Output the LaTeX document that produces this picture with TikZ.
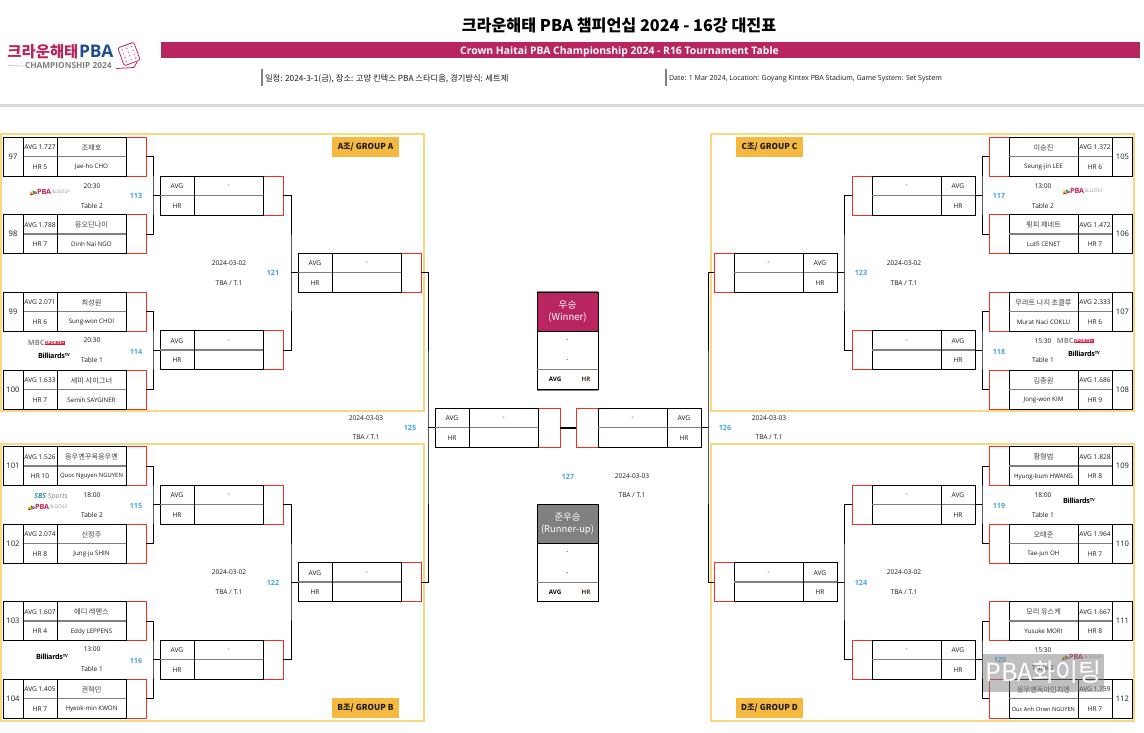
\documentclass[tikz,border=0pt]{standalone}
\usepackage{fontspec}
\setmainfont{Open Sans}
\newfontfamily\kr{Noto Sans CJK KR}
\definecolor{brand}{HTML}{B9265F}
\definecolor{grp}{HTML}{F9D77E}
\definecolor{grpfill}{HTML}{F5B93F}
\definecolor{redl}{HTML}{EE3124}
\definecolor{blue}{HTML}{45A5E0}
\definecolor{midg}{HTML}{808080}
\definecolor{ink}{HTML}{1A1A1A}
\definecolor{pbab}{HTML}{1F4E8C}
\tikzset{
  every node/.style={inner sep=0pt,outer sep=0pt,text=ink},
  redcell/.style={draw=redl,line width=.95pt,minimum height=39pt},
  framecell/.style={draw=black,line width=.95pt,minimum height=39pt},
  numcell/.style={draw=black,line width=.95pt,minimum height=39pt,minimum width=20pt,font=\fontsize{7.6}{8}\selectfont},
  sdiv/.style={draw=black,line width=.95pt},
  gline/.style={draw=midg,line width=1.5pt},
  small/.style={font=\fontsize{6.6}{7}\selectfont},
  krname/.style={font=\kr\fontsize{7.2}{8}\selectfont,text=black!75},
  eng/.style={font=\fontsize{6.2}{7}\selectfont},
  smallb/.style={font=\bfseries\fontsize{6.2}{7}\selectfont},
  mnum/.style={font=\bfseries\fontsize{7.2}{8}\selectfont,text=blue},
  group/.style={draw=grp,line width=1.7pt},
  glabel/.style={fill=grpfill,minimum width=67pt,minimum height=20pt,font=\kr\bfseries\fontsize{8.2}{9}\selectfont},
  conn/.style={draw=black,line width=.95pt},
}
\def\rw{20}
% left-hand entry: name, x of left edge, y top, avg, hr, top text, bottom text
\newcommand\leftbox[7]{%
  \node[redcell,minimum width=\rw pt] (#1) at ({#2+103+\rw/2},{#3+19.5}) {};
  \node[framecell,minimum width=103pt] (#1f) at ({#2+51.5},{#3+19.5}) {};
  \draw[gline] (#2,#3+19.5) -- (#2+103,#3+19.5);
  \draw[sdiv] (#2+34,#3) -- (#2+34,#3+39);
  \node[small] (#1a) at (#2+17,#3+10.4) {#4};
  \node[small] (#1h) at (#2+17,#3+30) {#5};
  \node[krname] (#1k) at (#2+68.5,#3+10.4) {#6};
  \node[eng] (#1e) at (#2+68.5,#3+30) {#7};
}
% right-hand entry: name, x of right edge, y top, avg, hr, top text, bottom text
\newcommand\rightbox[7]{%
  \node[redcell,minimum width=\rw pt] (#1) at ({#2-103-\rw/2},{#3+19.5}) {};
  \node[framecell,minimum width=103pt] (#1f) at ({#2-51.5},{#3+19.5}) {};
  \draw[gline] (#2,#3+19.5) -- (#2-103,#3+19.5);
  \draw[sdiv] (#2-34,#3) -- (#2-34,#3+39);
  \node[small] (#1a) at (#2-17,#3+10.4) {#4};
  \node[small] (#1h) at (#2-17,#3+30) {#5};
  \node[krname] (#1k) at (#2-68.5,#3+10.4) {#6};
  \node[eng] (#1e) at (#2-68.5,#3+30) {#7};
}
\newcommand\plL[6]{\leftbox{p#1}{23}{#2}{AVG #3}{HR #4}{#5}{#6}
  \node[numcell] (n#1) at (13,#2+19.5) {#1};}
\newcommand\plR[6]{\rightbox{p#1}{1112}{#2}{AVG #3}{HR #4}{#5}{#6}
  \node[numcell] (n#1) at (1122.5,#2+19.5) {#1};}
% logos
\newcommand\peacock[2]{%
  \begin{scope}[shift={(#1,#2)}]
    \fill[red!80!black] (0,0) -- (-3.2,-1) -- (-3.2,.8) -- cycle;
    \fill[orange] (0,0) -- (-2.6,-2.6) -- (-3.4,-1.2) -- cycle;
    \fill[yellow!80!orange] (0,0) -- (-.8,-3.6) -- (-2.2,-3) -- cycle;
    \fill[green!60!black] (0,0) -- (.8,-3.6) -- (-.4,-3.8) -- cycle;
    \fill[blue!70!black] (0,0) -- (2.6,-2.6) -- (1.2,-3.4) -- cycle;
    \fill[violet] (0,0) -- (3.2,-1) -- (3,-2.2) -- cycle;
  \end{scope}}
\newcommand\pgl[3]{%
  \peacock{#2-16.5}{#3+2.4}
  \node[anchor=west,font=\bfseries\fontsize{7.2}{8}\selectfont,text=brand!85!red] (#1a) at (#2-13,#3) {PBA};
  \node[anchor=west,font=\fontsize{5.2}{6}\selectfont,text=gray!80] (#1b) at (#1a.east) {\,\&\,GOLF};}
\newcommand\bil[3]{%
  \node[font=\bfseries\fontsize{7.2}{8}\selectfont,text=black] (#1) at (#2,#3) {\addfontfeature{LetterSpace=-4}Billiards\raisebox{2.6pt}{\fontsize{4.2}{5}\selectfont TV}};}
\newcommand\mbcs[3]{%
  \node[anchor=east,font=\bfseries\fontsize{7.4}{8}\selectfont,text=black!45] (#1a) at (#2-7.5,#3) {MBC};
  \node[anchor=west,fill=brand!60!red,font=\bfseries\fontsize{4.4}{5}\selectfont,text=white,inner xsep=.8pt,inner ysep=.8pt] (#1b) at (#1a.east) {SPORTS+};}
\usetikzlibrary{calc}
\begin{document}
\begin{tikzpicture}[x=1pt,y=-1pt]
\useasboundingbox (0,0) rectangle (1144,732);
\fill[white] (0,0) rectangle (1144,732);
% header
\node[font=\kr\bfseries\fontsize{16.2}{18}\selectfont,text=black] (title) at (619,25.5) {크라운해태 PBA 챔피언십 2024 - 16강 대진표};
\node[fill=brand,minimum width=979pt,minimum height=16pt] (bar) at (650.5,50) {};
\node[font=\bfseries\fontsize{10.4}{12}\selectfont,text=white] (subtitle) at (619.5,51.3) {Crown Haitai PBA Championship 2024 - R16 Tournament Table};
\node[minimum width=1.3pt,minimum height=17pt,fill=midg] (infoa) at (262,77.5) {};
\node[anchor=west,font=\kr\fontsize{8.3}{9}\selectfont] (infoat) at (265,78.5) {일정: 2024-3-1(금), 장소: 고양 킨텍스 PBA 스타디움, 경기방식: 세트제};
\node[minimum width=1.3pt,minimum height=17pt,fill=midg] (infob) at (666,77.5) {};
\node[anchor=west,font=\fontsize{7.05}{8}\selectfont] (infobt) at (669,78.5) {Date: 1 Mar 2024, Location: Goyang Kintex PBA Stadium, Game System: Set System};
\node[fill=black!15,minimum width=1144pt,minimum height=3.5pt] (band) at (572,105.5) {};
% logo
\node[anchor=west,font=\kr\bfseries\fontsize{15.4}{17}\selectfont,text=brand] (lg1) at (7.5,51.5) {크라운해태};
\node[anchor=west,font=\bfseries\fontsize{17.4}{18}\selectfont,text=pbab] (lg2) at (79,51.5) {PBA};
\node[anchor=west,font=\bfseries\fontsize{8.3}{9}\selectfont,text=gray] (lg3) at (25,66) {CHAMPIONSHIP 2024};
\draw[gray!50,line width=.6pt] (8,65.5) -- (lg3.west);
\begin{scope}[shift={(129,54)},rotate=20]
  \draw[brand,line width=.8pt,rounded corners=2pt] (-8.5,-9.5) rectangle (8.5,9.5);
  \foreach \i in {-5,0,5}\foreach \j in {-6,-2,2,6}\fill[brand!60] (\i,\j) circle (.9);
\end{scope}
\draw[brand,line width=.8pt] (116,68.5) -- (134,67.5) -- (137,62);
% groups
\draw[group] (1,134) rectangle (424,411);
\draw[group] (1,444) rectangle (424,721);
\draw[group] (711,134) rectangle (1134,411);
\draw[group] (711,444) rectangle (1134,721);
\draw[grp,line width=2.4pt] (1,134) -- (1,411) (1,444) -- (1,721);
\node[glabel] (ga) at (365.5,147) {A조/ GROUP A};
\node[glabel] (gb) at (365.5,707.5) {B조/ GROUP B};
\node[glabel] (gc) at (769.5,147) {C조/ GROUP C};
\node[glabel] (gd) at (769.5,707.5) {D조/ GROUP D};
% left players
\plL{97}{137}{1.727}{5}{조재호}{Jae-ho CHO}
\plL{98}{214.5}{1.788}{7}{응오딘나이}{Dinh Nai NGO}
\plL{99}{292}{2.071}{6}{최성원}{Sung-won CHOI}
\plL{100}{370}{1.633}{7}{세미 사이그너}{Semih SAYGINER}
\plL{101}{446.5}{1.526}{10}{응우옌꾸옥응우옌}{{\fontsize{5.9}{7}\selectfont Quoc Nguyen NGUYEN}}
\plL{102}{524}{2.074}{8}{신정주}{Jung-ju SHIN}
\plL{103}{601.5}{1.607}{4}{에디 레펜스}{Eddy LEPPENS}
\plL{104}{679}{1.405}{7}{권혁민}{Hyeok-min KWON}
% right players
\plR{105}{137}{1.372}{6}{이승진}{Seung-jin LEE}
\plR{106}{214.5}{1.472}{7}{륏피 체네트}{Lutfi CENET}
\plR{107}{292}{2.333}{6}{무라트 나지 초클루}{Murat Naci COKLU}
\plR{108}{370}{1.686}{9}{김종원}{Jong-won KIM}
\plR{109}{446.5}{1.828}{8}{황형범}{Hyung-bum HWANG}
\plR{110}{524}{1.964}{7}{오태준}{Tae-jun OH}
\plR{111}{601.5}{1.667}{8}{모리 유스케}{Yusuke MORI}
\plR{112}{679}{1.759}{7}{응우옌득아인치엔}{{\fontsize{5.6}{7}\selectfont Duc Anh Chien NGUYEN}}
% round of 8
\leftbox{m113}{160}{176}{AVG}{HR}{-}{}
\leftbox{m114}{160}{330.5}{AVG}{HR}{-}{}
\leftbox{m115}{160}{485}{AVG}{HR}{-}{}
\leftbox{m116}{160}{640}{AVG}{HR}{-}{}
\rightbox{m117}{975}{176}{AVG}{HR}{-}{}
\rightbox{m118}{975}{330.5}{AVG}{HR}{-}{}
\rightbox{m119}{975}{485}{AVG}{HR}{-}{}
\rightbox{m120}{975}{640}{AVG}{HR}{-}{}
% round of 4
\leftbox{m121}{298}{253}{AVG}{HR}{-}{}
\leftbox{m122}{298}{562.5}{AVG}{HR}{-}{}
\rightbox{m123}{837}{253}{AVG}{HR}{-}{}
\rightbox{m124}{837}{562.5}{AVG}{HR}{-}{}
% semifinal
\def\rw{22}
\leftbox{m125}{435}{408}{AVG}{HR}{-}{}
\rightbox{m126}{701}{408}{AVG}{HR}{-}{}
\def\rw{20}
% connectors
\foreach \a/\b/\m in {p97/p98/m113,p99/p100/m114,p101/p102/m115,p103/p104/m116,m113/m114/m121,m115/m116/m122,m121/m122/m125}{
  \coordinate (j) at ($(\m f.west)+(-7,0)$);
  \draw[conn] (\a.east) -| (j) |- (\b.east);
  \draw[conn] (j) -- (\m f.west);
}
\foreach \a/\b/\m in {p105/p106/m117,p107/p108/m118,p109/p110/m119,p111/p112/m120,m117/m118/m123,m119/m120/m124,m123/m124/m126}{
  \coordinate (j) at ($(\m f.east)+(7,0)$);
  \draw[conn] (\a.west) -| (j) |- (\b.west);
  \draw[conn] (j) -- (\m f.east);
}
\draw[black,line width=2pt] (m125.east) -- (m126.west);
% winner
\node[draw=black,line width=1pt,minimum width=61pt,minimum height=97pt] (win) at (567.5,340.5) {};
\node[draw=black,line width=1pt,fill=brand,minimum width=61pt,minimum height=39pt,align=center,font=\kr\fontsize{9.6}{12}\selectfont,text=white] (winh) at (567.5,311.5) {우승\\(Winner)};
\node[small] (wina) at (567.5,340) {-};
\node[small] (winb) at (567.5,360) {-};
\draw[draw=midg,line width=1pt] (win.west |- 0,369) -- (win.east |- 0,369);
\node[smallb,text=black] (wavg) at (555,379.5) {AVG};
\node[smallb,text=black!60!brown] (whr) at (586,379.5) {HR};
\draw[midg,line width=.8pt] (win.north west) ++(0,-.9) -- ++(61,0);
\draw[midg,line width=.8pt] (win.south west) ++(0,.9) -- ++(61,0);
% runner-up
\node[draw=black,line width=1pt,minimum width=61pt,minimum height=97pt] (run) at (567.5,552.5) {};
\node[draw=black,line width=1pt,fill=midg,minimum width=61pt,minimum height=39pt,align=center,font=\kr\fontsize{9.4}{12}\selectfont,text=white] (runh) at (567.5,523.5) {준우승\\(Runner-up)};
\node[small] (runa) at (567.5,552) {-};
\node[small] (runb) at (567.5,573) {-};
\draw[draw=midg,line width=1pt] (run.west |- 0,582) -- (run.east |- 0,582);
\node[smallb,text=black] (ravg) at (555,592.5) {AVG};
\node[smallb,text=black!60!brown] (rhr) at (586,592.5) {HR};
% match numbers
\foreach \n/\x/\y in {113/136/195.5,114/136/351.5,115/136/505.5,116/136/660.5,117/999/195.5,118/999/351.5,119/999/505.5,120/1000/659.5,121/273/272.5,122/273/582.5,123/861/272.5,124/861/582.5,125/410/427.5,126/725/427.5,127/568/476.5}
  \node[mnum] (no\n) at (\x,\y) {\n};
% times
\foreach \n/\x/\y/\t in {a/92/186/20:30,b/92/206/Table 2,c/92/340/20:30,d/92/360/Table 1,e/92/495/18:00,f/92/515/Table 2,g/92/649/13:00,h/92/669/Table 1,i/1043/186/13:00,j/1043/206/Table 2,k/1043/341/15:30,l/1043/360/Table 1,m/1043/495/18:00,o/1043/515/Table 1,p/1043/650/15:30,q/1043/668/Table 2}
  \node[small] (time\n) at (\x,\y) {\t};
\foreach \n/\x/\y in {a/229/263,b/229/572,c/904/263,d/904/572,e/366/418,f/769/418,g/632/476}
  \node[small] (date\n) at (\x,\y) {2024-03-0\ifnum\y<400 2\else\ifnum\y>500 2\else 3\fi\fi};
\foreach \n/\x/\y in {a/229/283,b/229/592,c/904/283,d/904/592,e/366/437,f/769/437,g/632/495}
  \node[small] (tba\n) at (\x,\y) {TBA / T.1};
% broadcaster logos
\pgl{la}{50}{192}
\mbcs{lb}{52}{343}
\bil{lc}{54}{356}
\node[font=\bfseries\itshape\fontsize{7}{8}\selectfont,text=blue!85!black] (ld) at (51,497) {SBS \textcolor{gray}{\normalfont\itshape Sports}};
\pgl{le}{48}{507}
\bil{lf}{52}{657}
\pgl{lg}{1083}{191}
\mbcs{lh}{1081}{341}
\bil{li}{1084}{354}
\bil{lj}{1079}{501}
\pgl{lk}{1082}{657}
% watermark
\node[fill=gray,fill opacity=.5,minimum width=121pt,minimum height=38pt] (wm) at (1043.5,673) {};
\node[font=\kr\fontsize{25}{27}\selectfont,text=white] (wmt) at (1043.5,672) {PBA화이팅};
\end{tikzpicture}
\end{document}
